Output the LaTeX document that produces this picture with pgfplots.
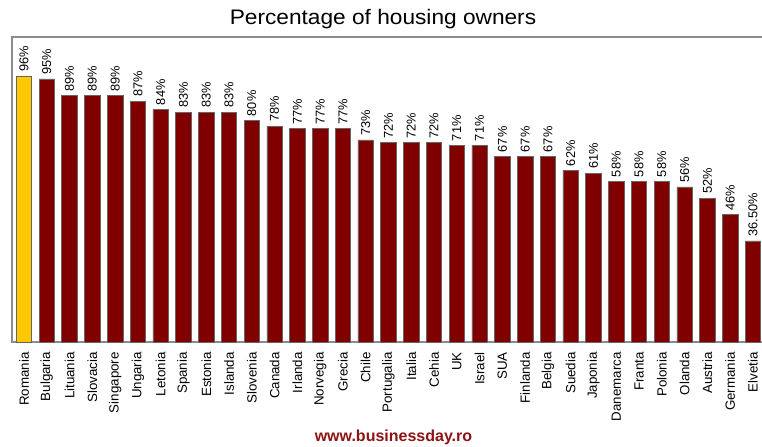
\documentclass[border=0pt]{standalone}
\usepackage{pgfplots}
\usepackage{pgfplotstable}
\pgfplotsset{compat=1.18}
\usepackage{fontspec}
\setmainfont{Liberation Sans}
\newfontfamily\titlefont[FakeStretch=1.08]{Liberation Sans}
\definecolor{barred}{RGB}{128,0,0}
\definecolor{baryellow}{RGB}{255,200,0}
\definecolor{framegray}{RGB}{140,140,140}
\definecolor{footred}{RGB}{140,20,20}

\pgfplotstableread{
x y lab
0 96 96
}\dataromania

\pgfplotstableread{
x y lab
1 95 95
2 89 89
3 89 89
4 89 89
5 87 87
6 84 84
7 83 83
8 83 83
9 83 83
10 80 80
11 78 78
12 77 77
13 77 77
14 77 77
15 73 73
16 72 72
17 72 72
18 72 72
19 71 71
20 71 71
21 67 67
22 67 67
23 67 67
24 62 62
25 61 61
26 58 58
27 58 58
28 58 58
29 56 56
30 52 52
31 46 46
32 36.5 36.50
}\dataothers

\begin{document}
\begin{tikzpicture}
\begin{axis}[
  at={(0,0)}, anchor=south west, scale only axis,
  width=564.75pt, height=228.4pt,
  xmin=-0.527, xmax=32.53, ymin=0, ymax=110,
  ybar, bar width=11.6pt, bar shift=0pt,
  axis line style={draw=framegray, line width=1.5pt},
  ytick=\empty,
  xtick={0,...,32},
  xticklabels={Romania,Bulgaria,Lituania,Slovacia,Singapore,Ungaria,Letonia,Spania,Estonia,Islanda,Slovenia,Canada,Irlanda,Norvegia,Grecia,Chile,Portugalia,Italia,Cehia,UK,Israel,SUA,Finlanda,Belgia,Suedia,Japonia,Danemarca,Franta,Polonia,Olanda,Austria,Germania,Elvetia},
  major tick length=0pt,
  xticklabel style={yshift=-7.5pt, rotate=90, anchor=east, inner sep=0pt, font=\fontsize{10pt}{12pt}\selectfont},
  point meta=explicit symbolic,
  nodes near coords={\pgfplotspointmeta\%},
  every node near coord/.append style={yshift=3pt, rotate=90, anchor=west, inner sep=0pt, font=\fontsize{9.6pt}{11pt}\selectfont, text=black},
]
\addplot[fill=baryellow, draw=black!60, line width=0.5pt] table[x=x, y=y, meta=lab] {\dataromania};
\addplot[fill=barred, draw=black!60, line width=0.5pt] table[x=x, y=y, meta=lab] {\dataothers};
\end{axis}
\node[anchor=base, font=\titlefont\fontsize{15.75pt}{18pt}\selectfont] at (278.25pt,237.75pt) {Percentage of housing owners};
\node[anchor=base, font=\bfseries\fontsize{12pt}{14pt}\selectfont, text=footred] at (286.1pt,-74.8pt) {www.businessday.ro};
\pgfresetboundingbox
\useasboundingbox (-9pt,-78pt) rectangle (562.5pt,256.5pt);
\end{tikzpicture}
\end{document}
